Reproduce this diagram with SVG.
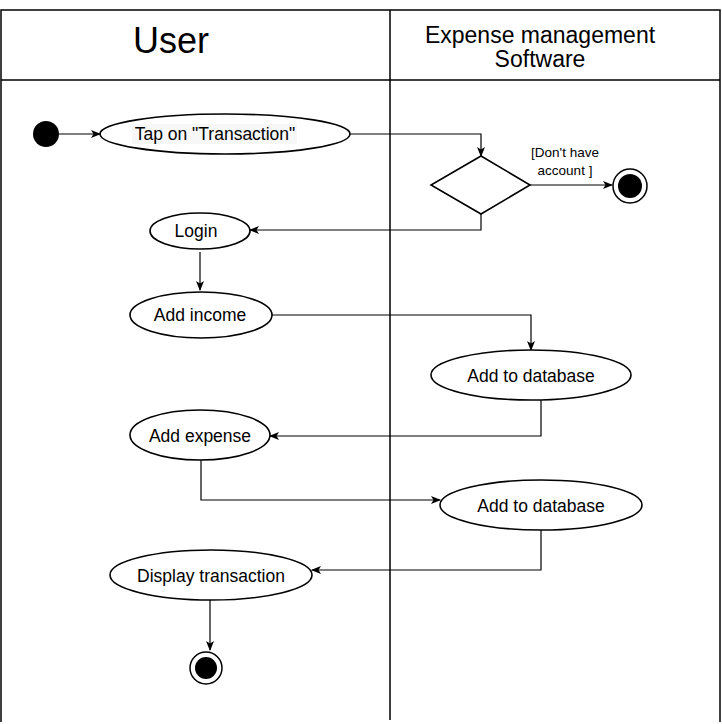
<svg xmlns="http://www.w3.org/2000/svg" width="722" height="724" viewBox="0 0 722 724">
<style>
.frame{fill:none;stroke:#000;stroke-width:1.5}
.node{fill:#fff;stroke:#000;stroke-width:1.6}
.txt{font-family:"Liberation Sans",Arial,sans-serif;font-size:17.5px;fill:#000;text-anchor:middle}
.hdr{font-family:"Liberation Sans",Arial,sans-serif;fill:#000;text-anchor:middle}
.lbl{font-family:"Liberation Sans",Arial,sans-serif;font-size:13.5px;fill:#000;text-anchor:middle}
.edge{fill:none;stroke:#000;stroke-width:1.2;marker-end:url(#arr)}
</style>
<defs>
<marker id="arr" viewBox="0 0 10 8" refX="9" refY="4" markerWidth="10" markerHeight="8" markerUnits="userSpaceOnUse" orient="auto">
<path d="M0,0 L10,4 L0,8 L2.5,4 z" fill="#000"/>
</marker>
</defs>
<rect width="722" height="724" fill="#fff"/>
<g id="lanes">
<path class="frame" d="M1,722 V10 H720 V722 M1,80 H720 M390,10 V720"/>
<text class="hdr" x="171" y="53" font-size="36">User</text>
<text class="hdr" x="540" y="43" font-size="23">Expense management</text>
<text class="hdr" x="540" y="67" font-size="23">Software</text>
</g>
<g id="connectors">
<path class="edge" d="M59,134 H100"/>
<path class="edge" d="M350,134 H481 V156"/>
<path class="edge" d="M530,185 H612"/>
<path class="edge" d="M481,214 V230 H250"/>
<path class="edge" d="M200,252 V290"/>
<path class="edge" d="M272,315 H531 V350"/>
<path class="edge" d="M541,400 V436 H270"/>
<path class="edge" d="M201,460 V500 H440"/>
<path class="edge" d="M541,530 V570 H312"/>
<path class="edge" d="M210,600 V650"/>
<text class="lbl" x="565" y="157">[Don't have</text>
<text class="lbl" x="565" y="175">account ]</text>
</g>
<g id="start">
<circle cx="46" cy="134" r="13" fill="#000"/>
</g>
<g id="tap">
<ellipse class="node" cx="225" cy="134" rx="125" ry="20"/>
<rect x="132" y="124" width="165" height="20" fill="#f7f7f7"/>
<text class="txt" x="215" y="140">Tap on "Transaction"</text>
</g>
<g id="decision">
<polygon class="node" points="481,156 530,185 481,214 431,185"/>
</g>
<g id="end1">
<circle cx="630" cy="186" r="17" fill="#fff" stroke="#000" stroke-width="1.5"/>
<circle cx="630" cy="186" r="12" fill="#000"/>
</g>
<g id="login">
<ellipse class="node" cx="200" cy="231" rx="50" ry="18"/>
<text class="txt" x="196" y="237">Login</text>
</g>
<g id="addIncome">
<ellipse class="node" cx="201" cy="315" rx="71" ry="23"/>
<text class="txt" x="200" y="321">Add income</text>
</g>
<g id="db1">
<ellipse class="node" cx="531" cy="375" rx="100" ry="25"/>
<text class="txt" x="531" y="382">Add to database</text>
</g>
<g id="addExpense">
<ellipse class="node" cx="200" cy="435" rx="70" ry="25"/>
<text class="txt" x="200" y="442">Add expense</text>
</g>
<g id="db2">
<ellipse class="node" cx="541" cy="505" rx="101" ry="25"/>
<text class="txt" x="541" y="512">Add to database</text>
</g>
<g id="display">
<ellipse class="node" cx="211" cy="575" rx="101" ry="25"/>
<text class="txt" x="211" y="582">Display transaction</text>
</g>
<g id="end2">
<circle cx="206" cy="668" r="16" fill="#fff" stroke="#000" stroke-width="1.5"/>
<circle cx="206" cy="668" r="11" fill="#000"/>
</g>
</svg>
